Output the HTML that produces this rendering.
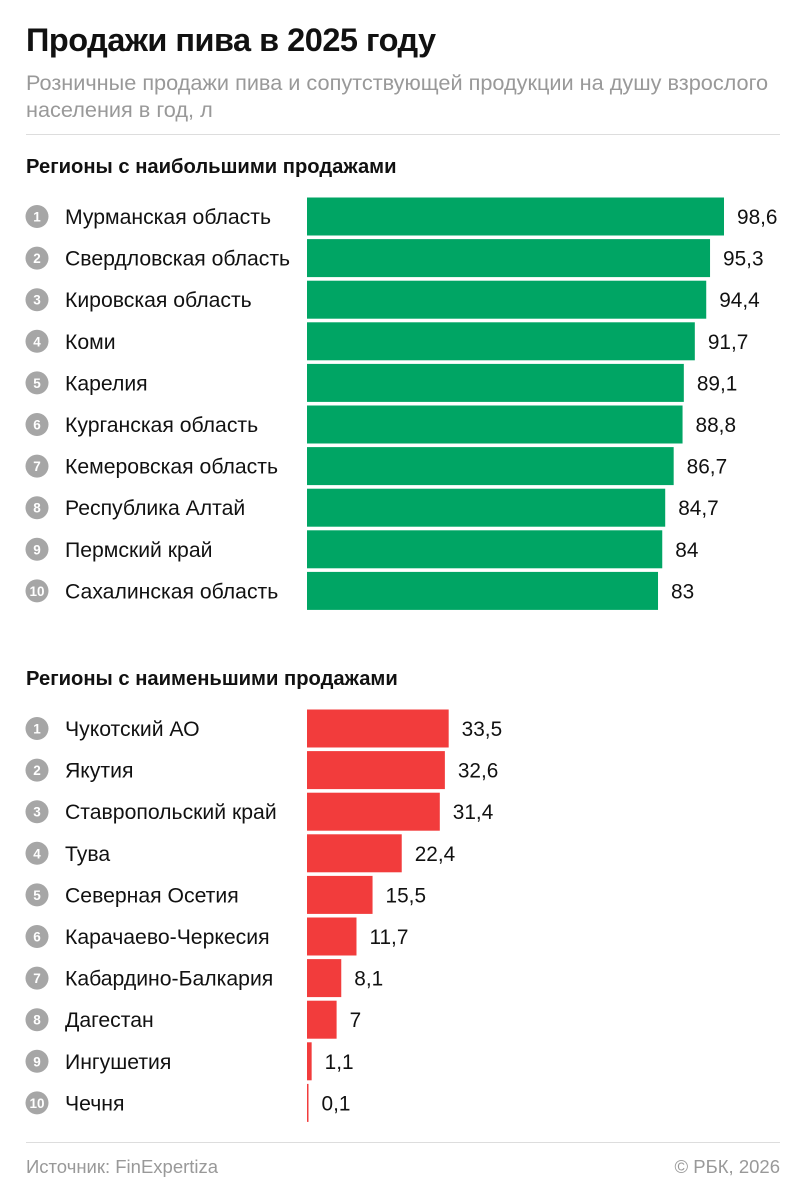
<!DOCTYPE html>
<html><head><meta charset="utf-8">
<style>
body{margin:0;background:#fff;font-family:"Liberation Sans","Noto Sans CJK SC",sans-serif;}
#wrap{position:relative;width:806px;height:1200px;overflow:hidden;}
.t{position:absolute;white-space:nowrap;}
</style></head><body>
<div id="wrap">
<div class="t" style="left:26px;top:22px;font-size:32.5px;font-weight:bold;color:#111;letter-spacing:-0.5px">Продажи пива в 2025 году</div>
<div class="t" style="left:26px;top:69px;font-size:21.7px;color:#999;line-height:27px">Розничные продажи пива и сопутствующей продукции на душу взрослого<br>населения в год, л</div>
<div style="position:absolute;left:26px;top:134px;width:754px;height:1px;background:#ddd"></div>
<div class="t" style="left:26px;top:156px;font-size:20.2px;font-weight:bold;color:#111">Регионы с наибольшими продажами</div>
<div class="t" style="left:26px;top:668px;font-size:20.2px;font-weight:bold;color:#111">Регионы с наименьшими продажами</div>
<div style="position:absolute;left:26px;top:1142px;width:754px;height:1px;background:#ddd"></div>
<div class="t" style="left:26px;top:1156px;font-size:18.5px;color:#999">Источник: FinExpertiza</div>
<div class="t" style="right:26px;top:1156px;font-size:18.5px;color:#999">© РБК, 2026</div>
<svg id="chart" width="806" height="1200" style="position:absolute;left:0;top:0"></svg>
</div>
<script>
const topRegions=["Мурманская область","Свердловская область","Кировская область","Коми","Карелия","Курганская область","Кемеровская область","Республика Алтай","Пермский край","Сахалинская область"];
const topValues=[98.6,95.3,94.4,91.7,89.1,88.8,86.7,84.7,84,83];
const bottomRegions=["Чукотский АО","Якутия","Ставропольский край","Тува","Северная Осетия","Карачаево-Черкесия","Кабардино-Балкария","Дагестан","Ингушетия","Чечня"];
const bottomValues=[33.5,32.6,31.4,22.4,15.5,11.7,8.1,7,1.1,0.1];

const NS="http://www.w3.org/2000/svg";
const svg=document.getElementById('chart');
const x0=307, pxPerUnit=(724-307)/98.6;
const xScale=v=>Math.max(1.5,v*pxPerUnit);
const rowH=41.6, barH=38;
function mk(tag,attrs){const e=document.createElementNS(NS,tag);for(const k in attrs)e.setAttribute(k,attrs[k]);svg.appendChild(e);return e;}
function fmt(v){return String(v).replace('.',',');}
function section(regions,values,firstCenter,color,prefix){
  regions.forEach((r,i)=>{
    const cy=firstCenter+i*rowH;
    const c=mk('circle',{cx:37,cy:cy,r:11.5,fill:'#a6a6a6'});
    
    
    const n=mk('text',{x:37,y:cy+5,'text-anchor':'middle','font-size':13.5,'font-weight':'bold',fill:'#fff'});
    n.textContent=i+1;
    
    
    const l=mk('text',{x:65,y:cy+7.5,'font-size':21.2,fill:'#111'});
    l.textContent=r;
    
    
    const w=xScale(values[i]);
    const b=mk('rect',{x:x0,y:cy-barH/2,width:w,height:barH,fill:color});
    
    
    const v=mk('text',{x:x0+w+13,y:cy+7.5,'font-size':20.8,fill:'#111'});
    v.textContent=fmt(values[i]);
    
    
  });
}
section(topRegions,topValues,216.5,'#00a564','top');
section(bottomRegions,bottomValues,728.5,'#f23c3c','bottom');
</script>
</body></html>
